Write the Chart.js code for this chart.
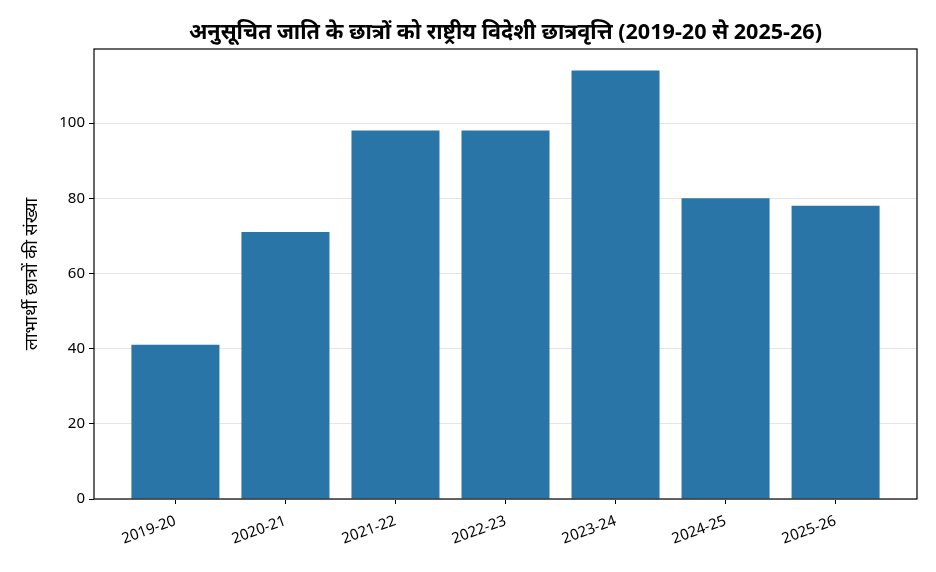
<!DOCTYPE html>
<html>
<head>
<meta charset="utf-8">
<script src="https://cdn.jsdelivr.net/npm/chart.js@4/dist/chart.umd.min.js"></script>
<style>
  html, body { margin: 0; padding: 0; background: #fff; }
  #wrap { width: 936px; height: 572px; }
</style>
</head>
<body>
<div id="wrap"><canvas id="chart" width="936" height="572"></canvas></div>
<script>
const years = ['2019-20', '2020-21', '2021-22', '2022-23', '2023-24', '2024-25', '2025-26'];
const students = [41, 71, 98, 98, 114, 80, 78];
const yTicks = [0, 20, 40, 60, 80, 100];

const chartTitle = 'अनुसूचित जाति के छात्रों को राष्ट्रीय विदेशी छात्रवृत्ति (2019-20 से 2025-26)';
const yTitle = 'लाभार्थी छात्रों की संख्या';

const FONT = "'Noto Sans', 'Noto Sans Devanagari', 'DejaVu Sans', sans-serif";

// title ko plot area ke upar beech me rakhna hai (poori canvas ke nahi)
const titleAndFrame = {
    id: 'titleAndFrame',
    afterDraw(chart) {
        const { ctx, chartArea: a } = chart;
        ctx.save();
        ctx.strokeStyle = '#000';
        ctx.lineWidth = 1.2;
        ctx.strokeRect(a.left, a.top, a.right - a.left, a.bottom - a.top);
        ctx.fillStyle = '#000';
        ctx.font = 'bold 21.6px ' + FONT;
        ctx.textAlign = 'center';
        ctx.textBaseline = 'middle';
        ctx.fillText(chartTitle, (a.left + a.right) / 2, 33);
        ctx.restore();
    }
};

new Chart(document.getElementById('chart'), {
    type: 'bar',
    data: {
        datasets: [{
            data: students.map((v, i) => ({ x: i, y: v })),
            backgroundColor: '#2975a8',
            borderWidth: 0,
            barPercentage: 0.8,
            categoryPercentage: 1
        }]
    },
    options: {
        responsive: false,
        animation: false,
        devicePixelRatio: 1,
        layout: { padding: { left: 0, right: 19, top: 49, bottom: 0 } },
        plugins: {
            legend: { display: false },
            tooltip: { enabled: false },
            title: { display: false }
        },
        scales: {
            x: {
                type: 'linear',
                min: -0.74,
                max: years.length - 1 + 0.74,
                offset: false,
                grid: { display: true, offset: false, drawOnChartArea: false, tickLength: 5, color: '#000', tickColor: '#000' },
                border: { display: false },
                afterBuildTicks(scale) {
                    scale.ticks = years.map((_, i) => ({ value: i }));
                },
                ticks: {
                    color: '#000',
                    font: { family: FONT, size: 15 },
                    autoSkip: false,
                    minRotation: 20,
                    maxRotation: 20,
                    padding: 8,
                    callback: v => years[v]
                },
                afterFit(scale) { scale.height = 73; }
            },
            y: {
                min: 0,
                max: Math.max(...students) * 1.05,
                bounds: 'data',
                grid: { color: '#e5e5e5', tickColor: '#000', tickLength: 5 },
                border: { display: false },
                ticks: {
                    color: '#000',
                    font: { family: FONT, size: 15 },
                    padding: 4
                },
                afterBuildTicks(scale) {
                    scale.ticks = yTicks.map(v => ({ value: v }));
                },
                title: {
                    display: true,
                    text: yTitle,
                    color: '#000',
                    font: { family: FONT, size: 18 },
                    padding: { top: 21, bottom: 0 }
                },
                afterFit(scale) { scale.width = 94; }
            }
        }
    },
    plugins: [titleAndFrame]
});
</script>
</body>
</html>
